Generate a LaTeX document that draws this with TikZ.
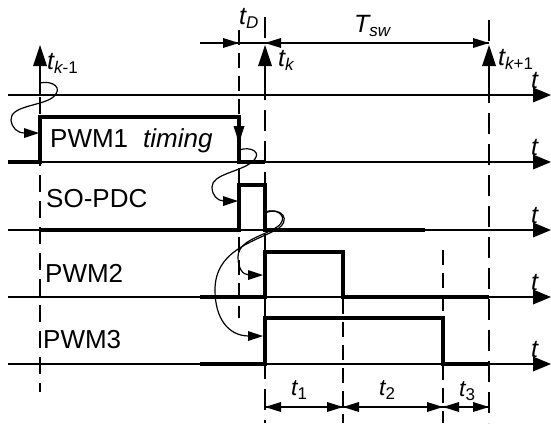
\documentclass[tikz,border=0pt]{standalone}
\usepackage{fontspec}
\setmainfont{Liberation Sans}
\newcommand\sbs[1]{\raisebox{-0.18em}{\fontsize{17}{17}\selectfont #1}}
% filled arrowhead: tip, direction (deg, on page), length, width
\newcommand\tri[4]{\fill[shift={#1},rotate=#2] (0,0) -- (-#3,#4/2) -- (-#3,-#4/2) -- cycle;}
\begin{document}
\begin{tikzpicture}[x=1pt,y=-1pt,
 axis/.style={line width=1.4pt},
 sig/.style={line width=3.8pt,line join=miter},
 tmark/.style={line width=2.8pt},
 dim/.style={line width=1.4pt},
 curl/.style={line width=1.2pt},
 thickdash/.style={line width=2.8pt,dash pattern=on 21pt off 10pt},
 middash/.style={line width=1.8pt,dash pattern=on 17pt off 9pt},
 thindash/.style={line width=1.3pt,dash pattern=on 15pt off 8pt},
 lbl/.style={inner sep=0pt,anchor=base west,font=\fontsize{26}{26}\selectfont},
 tl/.style={inner sep=0pt,anchor=base west,font=\fontsize{25}{25}\selectfont\itshape},
 tls/.style={inner sep=0pt,anchor=base west,font=\fontsize{23}{23}\selectfont\itshape},
]
\useasboundingbox (0,0) rectangle (551,423);
% axes
\foreach \n/\y in {1/95,2/162,3/230,4/297,5/364}{
  \coordinate (L\n) at (8,\y);
  \coordinate (E\n) at (536,\y);
  \coordinate (R\n) at (551,\y);
  \draw[axis] (L\n) -- (E\n);
  \tri{(R\n)}{0}{18}{15}
  \node[tl] (tax\n) at (531,\y-7) {t};
}
% dashed verticals
\draw[middash] (40,97) -- (40,392);
\draw[thindash] (239,30) -- (239,318);
\draw[thickdash] (265,17) -- (265,423);
\draw[thickdash] (489,20) -- (489,423);
\draw[thindash] (343,299) -- (343,423);
\draw[thindash] (443,250) -- (443,423);
% time marks
\foreach \n/\x in {0/40,1/265,2/489}{
  \coordinate (mk\n) at (\x,95);
  \coordinate (mk\n b) at (\x,62);
  \coordinate (mk\n t) at (\x,45);
  \draw[tmark] (mk\n) -- (mk\n b);
  \tri{(mk\n t)}{90}{21}{14}
}
% top dimension
\coordinate (d0) at (200,43);
\coordinate (d1) at (239,43);
\coordinate (d2) at (265,43);
\coordinate (d3) at (489,43);
\draw[dim] (d0) -- (d3);
\tri{(d1)}{0}{16}{10}
\tri{(d2)}{180}{16}{10}
\tri{(d3)}{0}{16}{10}
% bottom dimensions
\coordinate (b0) at (265,407);
\coordinate (b1) at (343,407);
\coordinate (b2) at (443,407);
\coordinate (b3) at (489,407);
\draw[dim] (b0) -- (b3);
\tri{(b0)}{180}{16}{10}
\tri{(b1)}{0}{16}{10}
\tri{(b1)}{180}{16}{10}
\tri{(b2)}{0}{16}{10}
\tri{(b2)}{180}{16}{10}
\tri{(b3)}{0}{16}{10}
% signals
\draw[sig] (8,162) -- (40,162) -- (40,117) -- (239,117) -- (239,162) -- (265,162);
\draw[sig] (40,230) -- (239,230) -- (239,185) -- (265,185) -- (265,230) -- (425,230);
\draw[sig] (200,297) -- (265,297) -- (265,252) -- (343,252) -- (343,297) -- (489,297);
\draw[sig] (200,364) -- (265,364) -- (265,318) -- (443,318) -- (443,364) -- (489,364);
\coordinate (fa) at (239,143);
\tri{(fa)}{-90}{17}{11}
% curly arrows
\coordinate (c0) at (39,133);
\coordinate (c1) at (238,201);
\coordinate (c2) at (263,275);
\coordinate (c3) at (263,336);
\draw[curl] (40,83) .. controls (52,80) and (65,88) .. (52,98)
  .. controls (40,106) and (10,106) .. (11,120)
  .. controls (12,128) and (17,133) .. (25,133);
\tri{(c0)}{0}{15}{10}
\draw[curl] (239,150) .. controls (250,146) and (264,152) .. (252,162)
  .. controls (240,172) and (212,174) .. (212,187)
  .. controls (212,195) and (217,201) .. (224,201);
\tri{(c1)}{0}{15}{10}
\draw[curl] (265,212) .. controls (278,207) and (290,218) .. (277,227)
  .. controls (264,236) and (238,240) .. (238,257)
  .. controls (238,267) and (242,275) .. (249,275);
\tri{(c2)}{0}{15}{10}
\draw[curl] (265,213) .. controls (281,206) and (293,220) .. (276,230)
  .. controls (250,243) and (215,252) .. (215,290)
  .. controls (215,318) and (228,336) .. (249,336);
\tri{(c3)}{0}{15}{10}
% labels
\node[lbl] (pwm1) at (50,147) {PWM1\hspace{15pt}\textit{timing}};
\node[lbl] (sopdc) at (46,207) {SO-PDC};
\node[lbl] (pwm2) at (45,282) {PWM2};
\node[lbl] (pwm3) at (43,348) {PWM3};
\node[tl] (tkm1) at (47,69) {t\sbs{k\upshape -1}};
\node[tl] (tk) at (278,66) {t\sbs{k}};
\node[tl] (tkp1) at (498,65) {t\sbs{k\upshape +1}};
\node[tl] (tD) at (239,24) {t\sbs{D}};
\node[tl] (Tsw) at (354,32) {T\sbs{sw}};
\node[tls] (t1) at (291,395) {t\sbs{\upshape 1}};
\node[tls] (t2) at (379,395) {t\sbs{\upshape 2}};
\node[tls] (t3) at (459,396) {t\sbs{\upshape 3}};
\end{tikzpicture}
\end{document}
